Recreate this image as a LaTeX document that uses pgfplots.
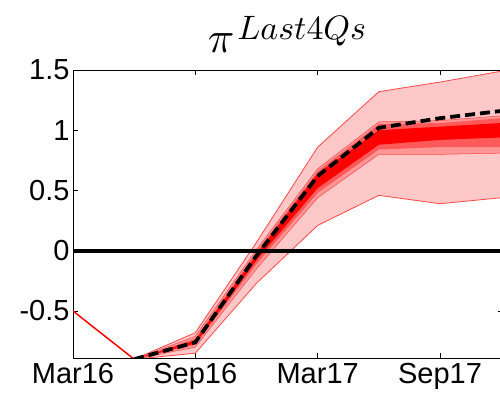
\documentclass[border=0pt]{standalone}
\usepackage[no-math]{fontspec}
\setmainfont{Liberation Sans}
\usepackage{graphicx}
\usepackage{pgfplots}
\usepackage{pgfplotstable}
\pgfplotsset{compat=1.18}
\usepgfplotslibrary{fillbetween}
\definecolor{fanA}{RGB}{255,200,200}
\definecolor{fanB}{RGB}{255,150,150}
\definecolor{fanC}{RGB}{255,90,90}
\definecolor{fanD}{RGB}{255,0,0}
\definecolor{edge}{RGB}{255,70,70}
\pgfplotstableread{
x olo ohi blo bhi mlo mhi clo chi mean
1 -0.90 -0.90 -0.90 -0.90 -0.90 -0.90 -0.90 -0.90 -0.90
2 -0.85 -0.68 -0.80 -0.71 -0.78 -0.73 -0.77 -0.745 -0.76
3 -0.27 0.07 -0.15 0.01 -0.11 -0.01 -0.08 -0.03 -0.04
4 0.21 0.86 0.44 0.68 0.48 0.66 0.52 0.64 0.62
5 0.46 1.32 0.80 1.07 0.84 1.05 0.88 1.00 1.02
6 0.39 1.40 0.80 1.08 0.86 1.06 0.92 1.03 1.10
7 0.44 1.49 0.81 1.12 0.86 1.10 0.94 1.06 1.16
}\fan
\pgfplotstableread{
x y
0 -0.50
1 -0.90
}\hist
\begin{document}
\begin{tikzpicture}
\begin{axis}[
  at={(0,0)}, anchor=south west,
  width=430bp, height=288bp, scale only axis,
  xmin=0, xmax=7.03, ymin=-0.89, ymax=1.5,
  xtick={0,2,4,6}, xticklabels={Mar16,Sep16,Mar17,Sep17},
  ytick={-0.5,0,0.5,1,1.5}, yticklabels={-0.5,0,0.5,1,1.5},
  tick align=inside, major tick length=5bp,
  tick style={black, line width=0.8bp},
  axis line style={black, line width=0.9bp},
  ticklabel style={font=\fontsize{29bp}{34bp}\selectfont},
  xticklabel style={yshift=-2bp},
  clip=true,
]
\addplot[name path=olo, draw=edge, line width=0.8bp] table[x=x,y=olo]{\fan};
\addplot[name path=ohi, draw=edge, line width=0.8bp] table[x=x,y=ohi]{\fan};
\addplot[name path=blo, draw=edge, line width=0.5bp] table[x=x,y=blo]{\fan};
\addplot[name path=bhi, draw=edge, line width=0.5bp] table[x=x,y=bhi]{\fan};
\addplot[name path=mlo, draw=none] table[x=x,y=mlo]{\fan};
\addplot[name path=mhi, draw=none] table[x=x,y=mhi]{\fan};
\addplot[name path=clo, draw=none] table[x=x,y=clo]{\fan};
\addplot[name path=chi, draw=none] table[x=x,y=chi]{\fan};
\addplot[fill=fanA, draw=none] fill between[of=olo and ohi];
\addplot[fill=fanB, draw=none] fill between[of=blo and bhi];
\addplot[fill=fanC, draw=none] fill between[of=mlo and mhi];
\addplot[fill=fanD, draw=none] fill between[of=clo and chi];
\addplot[red, line width=1.5bp] table[x=x,y=y]{\hist};
\addplot[black, line width=4bp] coordinates {(0,0) (7.03,0)};
\addplot[black, line width=3.8bp, dash pattern=on 10bp off 5bp] table[x=x,y=mean]{\fan};
\end{axis}
\node[anchor=base, inner sep=0pt] at (214bp,305bp)
  {\scalebox{4.4}{$\pi$}\kern3bp\raisebox{13bp}{\scalebox{3.4}{$Last4Qs$}}};
\pgfresetboundingbox
\useasboundingbox (-73bp,-40bp) rectangle (427bp,358bp);
\end{tikzpicture}
\end{document}
